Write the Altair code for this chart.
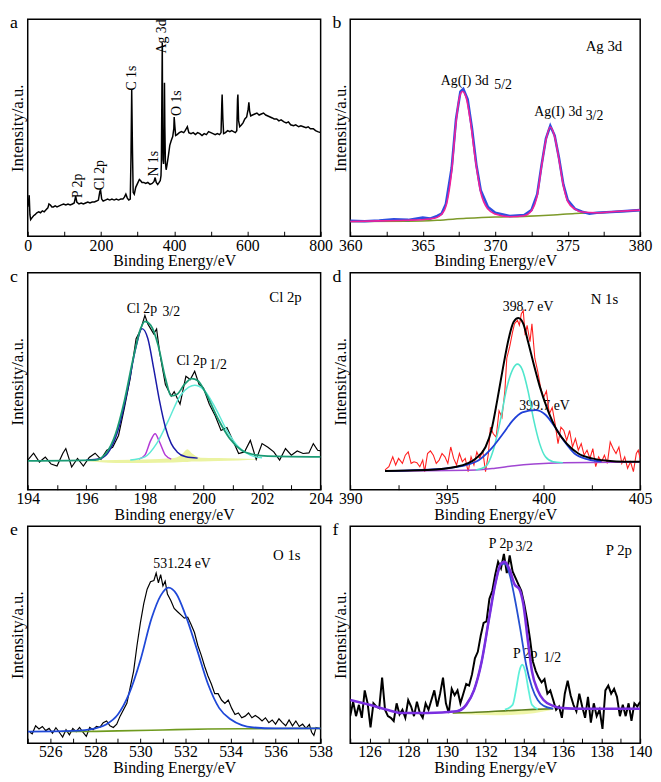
import altair as alt
import pandas as pd

FONT = "Liberation Serif"

# ---------------- panel a : survey spectrum ----------------
a_be = [0, 2, 4, 6, 8, 12, 16, 20, 25, 30,
        35, 40, 45, 50, 55, 58, 62, 66, 70, 75,
        80, 86, 92, 98, 104, 110, 116, 122, 127, 131,
        134, 140, 146, 152, 158, 164, 170, 176, 182, 188,
        193, 197, 199, 202, 206, 212, 218, 224, 230, 236,
        242, 248, 254, 260, 264, 268, 272, 276, 280, 282,
        284, 286, 288, 291, 295, 300, 305, 308, 312, 317,
        322, 328, 334, 340, 345, 348, 351, 355, 359, 362,
        364, 365, 366.5, 367.5, 368.5, 369.5, 371, 372.5, 373.5, 374.5,
        376, 378, 380, 384, 388, 392, 396, 399, 400, 402,
        404, 408, 414, 420, 426, 430, 436, 440, 446, 452,
        458, 464, 470, 476, 482, 488, 494, 500, 506, 512,
        518, 524, 528, 530, 531, 533, 535, 540, 546, 552,
        557, 562, 567, 571, 573, 574, 576, 579, 584, 588,
        593, 598, 602, 604, 606, 609, 614, 620, 626, 632,
        638, 644, 650, 656, 662, 668, 673, 680, 686, 692,
        700, 706, 712, 718, 726, 732, 740, 746, 753, 760,
        766, 772, 780, 786, 792, 800]
a_int = [30, 34, 42, 22, 17, 19, 21, 22, 24, 25,
         24, 26, 25, 27, 29, 33, 32, 30, 30, 31,
         30, 31, 32, 33, 32, 33, 32, 33, 34, 41,
         35, 33, 34, 33, 34, 35, 34, 35, 35, 36,
         37, 46, 47, 38, 36, 37, 38, 37, 38, 37,
         38, 37, 38, 38, 40, 43, 39, 37, 38, 80,
         150, 90, 45, 43, 50, 54, 58, 57, 55, 55,
         54, 55, 53, 54, 56, 60, 55, 53, 55, 57,
         62, 75, 150, 198, 110, 78, 74, 100, 157, 112,
         76, 68, 72, 82, 93, 98, 102, 110, 122, 112,
         103, 104, 106, 107, 106, 108, 112, 106, 105, 106,
         104, 106, 105, 103, 105, 104, 107, 106, 105, 104,
         105, 104, 106, 135, 145, 120, 105, 106, 108, 107,
         108, 107, 106, 108, 140, 145, 118, 112, 114, 116,
         120, 122, 130, 137, 128, 123, 124, 125, 126, 124,
         125, 126, 124, 123, 122, 121, 120, 120, 118, 119,
         117, 116, 117, 114, 113, 114, 112, 113, 112, 111,
         112, 110, 110, 108, 107, 106]
a_lab = ["P 2p", "Cl 2p", "C 1s", "N 1s", "Ag 3d", "O 1s"]
a_lab_be = [137, 197, 284, 344, 366, 408]
a_lab_int = [39, 47, 149, 61, 187, 123]

# ---------------- panel b : Ag 3d ----------------
b_raw_be = [360, 361, 362, 363, 364, 365, 365.5, 366, 366.3, 366.6,
            367, 367.3, 367.6, 367.8, 368.1, 368.4, 368.7, 369, 369.5, 370,
            371, 372, 372.5, 372.9, 373.2, 373.5, 373.8, 374.1, 374.4, 374.7,
            375, 375.5, 376, 376.5, 377, 378, 379, 380]
b_raw_int = [15.7, 15.3, 16, 17.3, 16.7, 19, 18, 20.7, 23, 33,
             70, 120, 148, 150.7, 140, 110, 73, 47, 30, 24,
             20.7, 21.7, 26.7, 43, 73, 100, 113, 103, 80, 53,
             37, 28, 25, 23, 24, 24.7, 25.7, 26.7]
b_fit_be = [360, 362, 364, 365.5, 366, 366.5, 367, 367.3, 367.55, 367.75,
            368, 368.3, 368.6, 369, 369.5, 370, 371, 372, 372.5, 372.9,
            373.2, 373.5, 373.8, 374.1, 374.4, 374.7, 375, 375.5, 376, 377,
            378, 380]
b_fit_int = [15, 15.7, 16.3, 17.7, 19.3, 26.7, 66.7, 116.7, 143, 148,
             141.7, 116.7, 81.7, 45, 27.7, 22.7, 20, 21, 26, 41.7,
             71.7, 98.3, 111.7, 101.7, 78.3, 51.7, 35.7, 27.7, 24.7, 24,
             25, 26.7]
b_bg_be = [360, 364, 366, 368, 370, 372, 374, 375.5, 377, 380]
b_bg_int = [15, 15.3, 16.3, 18.3, 19.7, 20.3, 21.7, 23.3, 24, 26.7]
b_lab = ["Ag 3d", "Ag(I) 3d", "5/2", "Ag(I) 3d", "3/2"]
b_lab_be = [377.5, 367.9, 370.55, 374.35, 376.85]
b_lab_int = [195, 159, 155, 127, 123]
b_lab_fs = [15, 14, 14, 14, 14]

# ---------------- panel c : Cl 2p ----------------
c_raw_be = [194.0, 194.2, 194.4, 194.6, 194.8, 195.0, 195.2, 195.3, 195.5, 195.7,
            195.9, 196.1, 196.3, 196.5, 196.7, 196.9, 197.1, 197.3, 197.5, 197.7,
            197.85, 198.0, 198.1, 198.2, 198.3, 198.4, 198.5, 198.7, 198.9, 199.0,
            199.2, 199.4, 199.55, 199.7, 199.85, 200.0, 200.2, 200.4, 200.6, 200.8,
            201.0, 201.2, 201.4, 201.6, 201.8, 202.0, 202.2, 202.4, 202.6, 202.8,
            203.0, 203.2, 203.4, 203.6, 203.75, 203.9, 204.0]
c_raw_int = [30, 37, 28, 33, 26, 24, 37, 41.7, 23, 31.7,
             24, 32.7, 37, 30.7, 40, 43, 55, 83, 113, 153,
             161.7, 176.7, 168, 163, 158, 163, 140, 106.7, 95, 99.3,
             86.7, 115, 111.7, 120, 106.7, 103, 86.7, 75, 60, 63,
             50, 36.7, 38.3, 50, 30.7, 46.7, 43, 38.3, 30, 41.7,
             35, 39.3, 36.7, 37.3, 46.7, 40, 39.3]
c_env_be = [194, 196.3, 196.7, 197.0, 197.3, 197.6, 197.85, 198.0, 198.2, 198.45,
            198.7, 198.9, 199.1, 199.35, 199.6, 199.8, 200.1, 200.5, 200.9, 201.3,
            201.7, 202.2, 204]
c_env_int = [29.3, 30, 38, 56.7, 90, 133, 163, 170.7, 166.7, 146.7,
             113, 95, 96.7, 106.7, 112.7, 110.7, 96.7, 71.7, 51.7, 40,
             35.7, 34, 33.3]
c_p32_be = [196.0, 196.5, 196.8, 197.1, 197.4, 197.7, 197.9, 198.1, 198.3, 198.5,
            198.7, 198.9, 199.1, 199.4, 199.8]
c_p32_int = [30, 31.7, 40, 61.7, 100, 145, 163.3, 153.3, 123, 90,
             63.3, 46.7, 38.3, 33.3, 32]
c_mid_be = [197.8, 198.0, 198.2, 198.35, 198.5, 198.7, 198.9]
c_mid_int = [31, 35, 50, 56.7, 48.3, 35, 31]
c_p12_be = [197.5, 198.0, 198.4, 198.8, 199.2, 199.5, 199.7, 200.0, 200.4, 200.8,
            201.2, 201.6, 202.0]
c_p12_int = [30, 33.3, 46.7, 70, 95, 104, 106, 101.7, 83.3, 60,
             43.3, 35, 32.3]
c_sh_be = [196.0, 197.0, 198.0, 199.0, 199.3, 199.45, 199.6, 199.9, 200.5, 201.2, 201.8]
c_sh_hi = [29.5, 30, 30.5, 32, 37, 41, 37, 32.5, 32, 31.5, 31]
c_sh_lo = [29, 27, 27, 27.5, 28, 28, 28.5, 28.5, 29, 29.5, 30.5]
c_lab = ["Cl 2p", "Cl 2p", "3/2", "Cl 2p", "1/2"]
c_lab_be = [202.8, 197.9, 198.9, 199.6, 200.5]
c_lab_int = [195, 183, 180, 130, 126]
c_lab_fs = [15, 14, 14, 14, 14]

# ---------------- panel d : N 1s ----------------
d_raw_be = [391.8, 392.0, 392.2, 392.35, 392.5, 392.7, 392.85, 393.0, 393.15, 393.3,
            393.45, 393.6, 393.75, 393.85, 394.0, 394.15, 394.3, 394.45, 394.6, 394.75,
            394.9, 395.05, 395.2, 395.35, 395.5, 395.65, 395.8, 395.95, 396.1, 396.25,
            396.4, 396.55, 396.7, 396.85, 397.0, 397.15, 397.25, 397.4, 397.55, 397.7,
            397.85, 398.0, 398.1, 398.25, 398.4, 398.5, 398.65, 398.75, 398.85, 398.95,
            399.05, 399.15, 399.3, 399.4, 399.55, 399.7, 399.85, 400.0, 400.15, 400.3,
            400.45, 400.6, 400.75, 400.9, 401.05, 401.2, 401.35, 401.5, 401.65, 401.8,
            401.95, 402.1, 402.25, 402.4, 402.55, 402.7, 402.85, 403.0, 403.15, 403.3,
            403.45, 403.6, 403.75, 403.9, 404.05, 404.2, 404.35, 404.5, 404.65, 404.8,
            404.9, 405.0]
d_raw_int = [20, 23.3, 33.3, 25, 31.7, 26.7, 35, 38.3, 26.7, 28.3,
             27.3, 23.3, 30, 18.3, 36.7, 39.3, 35, 26.7, 30, 36.7,
             33.3, 26.7, 43.3, 31.7, 25, 36.7, 28.3, 31.7, 18.3, 33.3,
             25, 38.3, 31.7, 40, 18.3, 36.7, 63.3, 56.7, 53.3, 80,
             73.3, 100, 133.3, 145, 160, 168.3, 171.7, 166.7, 178.3, 181.7,
             156.7, 166.7, 150, 168.3, 133.3, 120, 103.3, 93.3, 100, 76.7,
             83.3, 66.7, 46.7, 63.3, 60, 50, 60, 43.3, 51.7, 40,
             46.7, 35, 40, 31.7, 41.7, 23.3, 33.3, 28.3, 35, 26.7,
             48.3, 41.7, 36.7, 43.3, 26.7, 33.3, 21.7, 28.3, 18.3, 36.7,
             40, 31.7]
d_env_be = [391.8, 394, 395.5, 396.5, 397.0, 397.3, 397.6, 397.9, 398.2, 398.45,
            398.7, 398.95, 399.2, 399.5, 399.8, 400.2, 400.7, 401.2, 401.8, 402.5,
            403.3, 404.2, 405]
d_env_int = [19, 20, 23.3, 31.7, 43.3, 60, 90, 123.3, 153.3, 170,
             174, 168.3, 150, 126.7, 105, 81.7, 60, 46.7, 36.7, 31.7,
             29.3, 28.3, 28.3]
d_c1_be = [396.5, 397.0, 397.4, 397.8, 398.1, 398.4, 398.65, 398.9, 399.2, 399.5,
           399.8, 400.1, 400.5, 401.0]
d_c1_int = [20, 23.3, 40, 73.3, 103.3, 121.7, 127.3, 121.7, 100, 70,
            46.7, 33.3, 28.3, 27.3]
d_c2_be = [391.8, 395, 396.5, 397.3, 397.9, 398.4, 398.9, 399.6, 400.1, 400.6,
           401.1, 401.6, 402.3, 403]
d_c2_int = [19, 21.7, 28.3, 41.7, 56.7, 70, 78.3, 80.7, 76, 63.3,
            48.3, 36.7, 30.7, 28.7]
d_bg_be = [391.8, 396.5, 397.5, 398.5, 399.5, 401, 405]
d_bg_int = [19, 20, 21.7, 24.3, 26, 27.3, 28]
d_lab = ["N 1s", "398.7 eV", "399.7 eV"]
d_lab_be = [403.15, 399.2, 400.05]
d_lab_int = [193, 185, 85]
d_lab_fs = [15, 14, 14]

# ---------------- panel e : O 1s ----------------
e_raw_be = [525.1, 525.2, 525.35, 525.5, 525.65, 525.8, 525.95, 526.1, 526.25, 526.4,
            526.55, 526.7, 526.85, 527.0, 527.15, 527.3, 527.45, 527.6, 527.75, 527.9,
            528.05, 528.2, 528.35, 528.5, 528.65, 528.8, 528.95, 529.1, 529.25, 529.4,
            529.55, 529.7, 529.85, 530.0, 530.15, 530.3, 530.45, 530.6, 530.7, 530.8,
            530.9, 531.0, 531.1, 531.2, 531.35, 531.5, 531.65, 531.8, 531.95, 532.1,
            532.25, 532.4, 532.55, 532.7, 532.85, 533.0, 533.15, 533.3, 533.45, 533.6,
            533.75, 533.9, 534.05, 534.2, 534.35, 534.5, 534.65, 534.8, 534.95, 535.1,
            535.25, 535.4, 535.55, 535.7, 535.85, 536.0, 536.15, 536.3, 536.45, 536.6,
            536.75, 536.9, 537.05, 537.2, 537.35, 537.5, 537.6, 537.7, 537.8, 538.0]
e_raw_int = [11.3, 9.7, 18, 14.7, 17.3, 13, 15.3, 10.3, 16, 11.3,
             6.3, 14, 8.7, 15.3, 12, 16.3, 11.3, 7, 16.3, 14,
             17.3, 16.3, 21.3, 23, 18, 16.3, 19.7, 28, 34.7, 41.3,
             58, 74.7, 101.3, 124.7, 144.7, 159.7, 167.3, 168.7, 176.3, 166.3,
             174.7, 163, 168, 154.7, 148, 139.7, 136.3, 133, 129.7, 130.7,
             123, 114.7, 101.3, 91.3, 79.7, 69.7, 61.3, 51.3, 51.3, 44.7,
             41.3, 44.7, 36.3, 29.7, 31.3, 26.3, 28, 31.3, 26.3, 28.7,
             26.3, 23, 26.3, 21.3, 24, 19.7, 25.3, 21.3, 18, 24,
             18, 23, 17.3, 19.7, 15.3, 19.3, 11.3, 8, 16.3, 14.7]
e_fit_be = [525, 527, 528, 528.5, 529, 529.5, 530, 530.5, 530.9, 531.25,
            531.6, 532.0, 532.5, 533.0, 533.5, 534.0, 534.5, 535, 536, 538]
e_fit_int = [12, 12.7, 15.3, 19.7, 29.7, 51.3, 86, 129.7, 153, 161.3,
             154.7, 133, 98, 61.3, 36.3, 24.7, 18.7, 16.3, 15.3, 15.3]
e_bg_be = [526.5, 527, 529, 531, 533, 535, 538]
e_bg_int = [12, 12, 12.7, 13.7, 14.7, 15, 15.3]
e_lab = ["O 1s", "531.24 eV"]
e_lab_be = [536.5, 531.85]
e_lab_int = [195, 186]
e_lab_fs = [15, 14]

# ---------------- panel f : P 2p ----------------
f_raw_be = [125.0, 125.15, 125.3, 125.45, 125.6, 125.75, 125.9, 126.05, 126.2, 126.35,
            126.5, 126.65, 126.8, 126.95, 127.1, 127.25, 127.4, 127.55, 127.7, 127.85,
            128.0, 128.15, 128.3, 128.45, 128.6, 128.75, 128.9, 129.05, 129.2, 129.35,
            129.5, 129.65, 129.8, 129.95, 130.1, 130.25, 130.4, 130.55, 130.7, 130.85,
            131.0, 131.15, 131.3, 131.45, 131.6, 131.75, 131.9, 132.05, 132.2, 132.35,
            132.5, 132.65, 132.8, 132.95, 133.1, 133.25, 133.4, 133.55, 133.7, 133.85,
            134.0, 134.15, 134.3, 134.45, 134.6, 134.75, 134.9, 135.05, 135.2, 135.35,
            135.5, 135.65, 135.8, 135.95, 136.1, 136.25, 136.4, 136.55, 136.7, 136.85,
            137.0, 137.15, 137.3, 137.45, 137.6, 137.75, 137.9, 138.05, 138.2, 138.35,
            138.5, 138.65, 138.8, 138.95, 139.1, 139.25, 139.4, 139.55, 139.7, 139.85,
            140.0]
f_raw_int = [28, 43, 28, 39.7, 26.3, 54.7, 41.3, 16.3, 41.3, 38,
             36.3, 68, 34.7, 28, 26.3, 23, 41.3, 29.7, 34.7, 26.3,
             44.7, 38, 28, 43, 31.3, 26.3, 41.3, 34.7, 44.7, 54.7,
             38, 51.3, 68, 41.3, 31.3, 56.3, 49.7, 54.7, 41.3, 51.3,
             61.3, 59.7, 71.3, 88, 94.7, 111.3, 124.7, 126.3, 149.7, 158,
             174.7, 188, 181.3, 196.3, 176.3, 194.7, 178, 171.3, 164.7, 158,
             144.7, 128, 108, 84.7, 74.7, 68, 63, 66.3, 51.3, 54.7,
             44.7, 34.7, 38, 26.3, 51.3, 64.7, 49.7, 39.7, 33, 51.3,
             38, 26.3, 48, 21.3, 41.3, 28, 34.7, 14.7, 54.7, 59.7,
             51.3, 56.3, 48, 28, 39.7, 28, 41.3, 23, 41.3, 38,
             43]
f_env_be = [125.0, 126.0, 127.0, 127.6, 129, 130.5, 131.0, 131.4, 131.8, 132.2,
            132.5, 132.8, 133.0, 133.25, 133.5, 133.75, 133.95, 134.2, 134.4, 134.7,
            135.0, 135.5, 136.0, 137.0, 140.0]
f_env_int = [44.7, 39.7, 34, 31.3, 31.3, 33, 39.7, 54.7, 84.7, 131.3,
             164.7, 186.3, 188, 179.7, 164.7, 159.7, 144.7, 104.7, 74.7, 54.7,
             44.7, 38.7, 36.3, 35.7, 35.7]
f_p32_be = [130.5, 131.0, 131.4, 131.8, 132.2, 132.5, 132.8, 133.0, 133.25, 133.5,
            133.8, 134.1, 134.4, 134.7, 135.0, 135.5]
f_p32_int = [33, 39.7, 54.7, 84.7, 131.3, 164.7, 185.3, 186.3, 174.7, 151.3,
             118, 81.3, 58, 44.7, 38.7, 35.7]
f_p12_be = [133.0, 133.4, 133.6, 133.75, 133.9, 134.05, 134.2, 134.4, 134.7]
f_p12_int = [34.7, 39.7, 58, 74.7, 81.3, 74.7, 58, 39.7, 35.3]
f_bg_be = [130.3, 131.5, 132.5, 133.5, 134.5, 135.5]
f_bg_int = [31.3, 32, 33, 34, 35, 35.7]
f_bg_lo = [30.5, 29.5, 29, 29.5, 31, 34.5]
f_lab = ["P 2p", "P 2p", "3/2", "P 2p", "1/2"]
f_lab_be = [138.9, 132.8, 134.0, 134.05, 135.45]
f_lab_int = [200, 206, 203, 92, 88]
f_lab_fs = [15, 14, 14, 14, 14]


def make_panel(letter, xdom, ydom, ticks, step, xtitle, w, h, series, labels,
               areas=(), rotated=None):
    xsc = alt.Scale(domain=xdom, nice=False, zero=False)
    ysc = alt.Scale(domain=ydom, nice=False, zero=False)
    xax = alt.Axis(title=xtitle, values=ticks, format="d",
                   labelExpr=f"abs(datum.value % {step}) < 0.01 ? datum.label : ''",
                   offset=-5, tickSize=5, tickColor="black", tickWidth=1,
                   domain=False, grid=False, labelFlush=False, labelOverlap=False,
                   labelFont=FONT, labelFontSize=16, labelColor="black",
                   labelPadding=1, titleFont=FONT, titleFontSize=16,
                   titleFontWeight="normal", titleColor="black", titlePadding=0)
    yax = alt.Axis(title="Intensity/a.u.", labels=False, ticks=False,
                   domain=False, grid=False, titleFont=FONT, titleFontSize=17,
                   titleFontWeight="normal", titleColor="black", titlePadding=1)
    X = alt.X("be:Q", scale=xsc, axis=xax)
    Y = alt.Y("inten:Q", scale=ysc, axis=yax)
    layers = []
    if labels is not None:
        t, tx, ty, fs = labels
        df = pd.DataFrame({"be": tx, "inten": ty, "t": t, "fs": fs})
        layers.append(alt.Chart(df).mark_text(font=FONT, color="black",
                                              baseline="middle", align="center")
                      .encode(x=X, y=Y, text="t:N",
                              size=alt.Size("fs:Q", scale=None, legend=None)))
    if rotated is not None:
        t, tx, ty = rotated
        df = pd.DataFrame({"be": tx, "inten": ty, "t": t})
        layers.append(alt.Chart(df).mark_text(font=FONT, color="black", fontSize=14,
                                              angle=270, align="left",
                                              baseline="middle")
                      .encode(x=X, y=Y, text="t:N"))
    for xs, hi, lo, col, op in areas:
        df = pd.DataFrame({"be": xs, "inten": hi, "lo": lo})
        layers.append(alt.Chart(df).mark_area(color=col, opacity=op,
                                              interpolate="monotone", clip=True)
                      .encode(x=X, y=Y, y2="lo:Q"))
    for xs, ys, col, wdt, interp in series:
        df = pd.DataFrame({"be": xs, "inten": ys})
        layers.append(alt.Chart(df).mark_line(color=col, strokeWidth=wdt,
                                              interpolate=interp, clip=True)
                      .encode(x=X, y=Y))
    ldf = pd.DataFrame({"t": [letter]})
    layers.append(alt.Chart(ldf).mark_text(font=FONT, fontSize=18, color="black",
                                           align="left", baseline="alphabetic")
                  .encode(x=alt.value(-18), y=alt.value(9), text="t:N"))
    return alt.layer(*layers).properties(width=w, height=h)


W1, W2, H = 297, 294, 220

pa = make_panel("a", [0, 800], [0, 222], list(range(0, 801, 100)), 200,
                "Binding Energy/eV", W1, H,
                [(a_be, a_int, "black", 1.5, "linear")], None,
                rotated=(a_lab, a_lab_be, a_lab_int))

pb = make_panel("b", [360, 380], [0, 222],
                [360, 362.5, 365, 367.5, 370, 372.5, 375, 377.5, 380], 5,
                "Binding Energy/eV", W2, H,
                [(b_bg_be, b_bg_int, "#7d9a2a", 1.6, "monotone"),
                 (b_raw_be, b_raw_int, "#2f4fe0", 2.6, "linear"),
                 (b_fit_be, b_fit_int, "#f0209a", 1.6, "monotone")],
                (b_lab, b_lab_be, b_lab_int, b_lab_fs))

pc = make_panel("c", [194, 204], [0, 220], list(range(194, 205)), 2,
                "Binding energy/eV", W1, H,
                [(c_raw_be, c_raw_int, "black", 1.2, "linear"),
                 (c_mid_be, c_mid_int, "#b43ad6", 1.5, "monotone"),
                 (c_p12_be, c_p12_int, "#5fe9d6", 1.5, "monotone"),
                 (c_p32_be, c_p32_int, "#1a1aa8", 1.5, "monotone"),
                 (c_env_be, c_env_int, "#1a9a74", 1.8, "monotone")],
                (c_lab, c_lab_be, c_lab_int, c_lab_fs),
                areas=[(c_sh_be, c_sh_hi, c_sh_lo, "#e6f08a", 0.8)])

pd_ = make_panel("d", [390, 405], [0, 220],
                 [390, 392.5, 395, 397.5, 400, 402.5, 405], 5,
                 "Binding Energy/eV", W2, H,
                 [(d_raw_be, d_raw_int, "#ff1f1f", 1.1, "linear"),
                  (d_bg_be, d_bg_int, "#a046d2", 1.5, "monotone"),
                  (d_c1_be, d_c1_int, "#50e6cc", 1.6, "monotone"),
                  (d_c2_be, d_c2_int, "#2040d8", 1.8, "monotone"),
                  (d_env_be, d_env_int, "black", 2.0, "monotone")],
                 (d_lab, d_lab_be, d_lab_int, d_lab_fs))

pe = make_panel("e", [525, 538], [0, 225], list(range(525, 539)), 2,
                "Binding Energy/eV", W1, H,
                [(e_raw_be, e_raw_int, "black", 1.2, "linear"),
                 (e_bg_be, e_bg_int, "#6f9a1e", 1.6, "monotone"),
                 (e_fit_be, e_fit_int, "#1f48d8", 1.8, "monotone")],
                (e_lab, e_lab_be, e_lab_int, e_lab_fs))

pf = make_panel("f", [125, 140], [0, 225], list(range(125, 141)), 2,
                "Binding Energy/eV", W2, H,
                [(f_raw_be, f_raw_int, "black", 2.0, "linear"),
                 (f_bg_be, f_bg_int, "#5f7f1e", 1.6, "monotone"),
                 (f_p12_be, f_p12_int, "#5ff0da", 1.8, "monotone"),
                 (f_p32_be, f_p32_int, "#2550d0", 1.8, "monotone"),
                 (f_env_be, f_env_int, "#7a2ee0", 2.6, "monotone")],
                (f_lab, f_lab_be, f_lab_int, f_lab_fs),
                areas=[(f_bg_be, f_bg_int, f_bg_lo, "#eef5a0", 0.9)])

chart = (
    alt.concat(pa, pb, pc, pd_, pe, pf, columns=2,
               spacing={"row": 37, "column": 30}, bounds="flush")
    .properties(padding={"left": 0, "top": 0, "right": 0, "bottom": 0},
                background="white")
    .configure_view(stroke="black", strokeWidth=1.5)
)

chart.save("out.html", embed_options={"renderer": "svg", "actions": False})
